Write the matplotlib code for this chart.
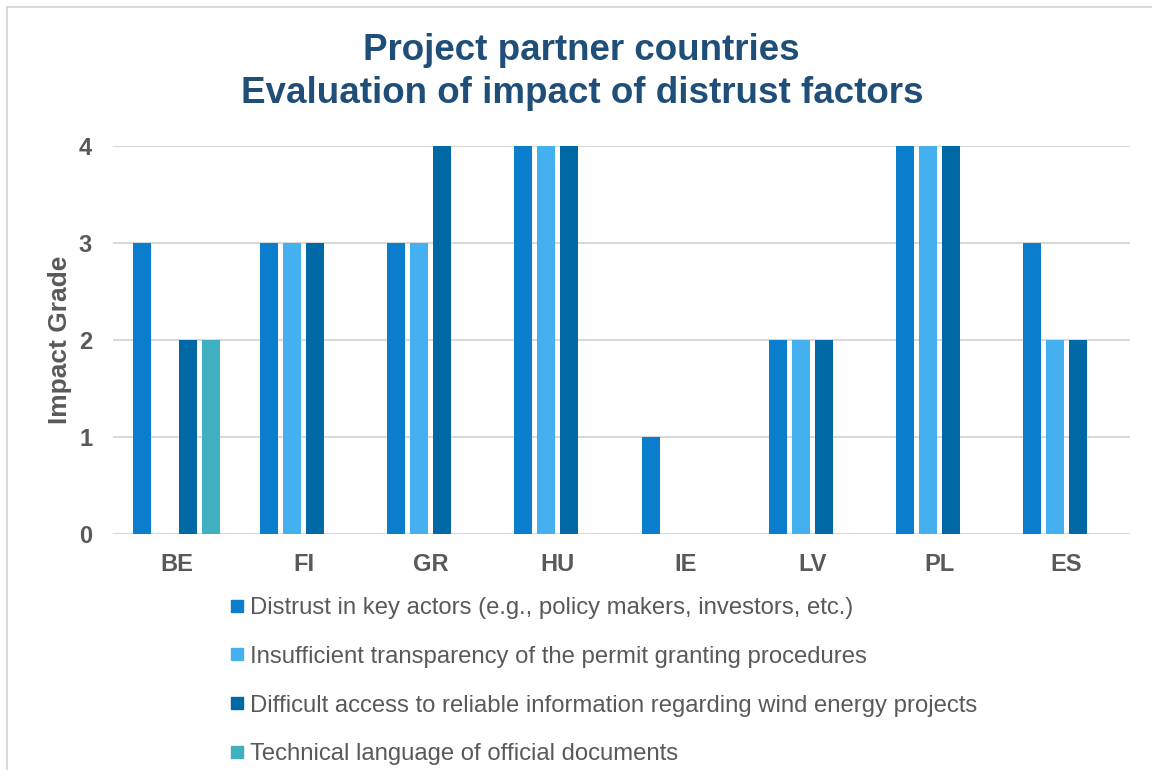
import matplotlib.pyplot as plt
import numpy as np
from matplotlib.lines import Line2D
from matplotlib.patches import Rectangle

plt.rcParams['font.family'] = ['Liberation Sans', 'DejaVu Sans']

# Data
countries = ['BE', 'FI', 'GR', 'HU', 'IE', 'LV', 'PL', 'ES']
series_names = [
    'Distrust in key actors (e.g., policy makers, investors, etc.)',
    'Insufficient transparency of the permit granting procedures',
    'Difficult access to reliable information regarding wind energy projects',
    'Technical language of official documents',
]
distrust_actors = [3, 3, 3, 4, 1, 2, 4, 3]
transparency = [0, 3, 3, 4, 0, 2, 4, 2]
access_info = [2, 3, 4, 4, 0, 2, 4, 2]
technical_lang = [2, 0, 0, 0, 0, 0, 0, 0]
colors = ['#0A7DCD', '#45B0F0', '#0068A5', '#40AFBF']

title_color = '#1F4E79'
text_color = '#595959'

fig = plt.figure(figsize=(11.52, 7.7), dpi=100)
ax = fig.add_axes([113 / 1152, 1 - 534 / 770, (1130 - 113) / 1152, (534 - 146) / 770])

x = np.arange(len(countries))
step = 0.181
width = 0.142
all_series = [distrust_actors, transparency, access_info, technical_lang]
for i, vals in enumerate(all_series):
    ax.bar(x + (i - 1.5) * step, vals, width=width, color=colors[i], linewidth=0, zorder=3)

ax.set_xlim(-0.5, len(countries) - 0.5)
ax.set_ylim(0, 4)
ax.set_yticks([0, 1, 2, 3, 4])
ax.set_xticks(x)
ax.set_xticklabels(countries)
ax.grid(axis='y', color='#D9D9D9', linewidth=1.5, zorder=0)
for s in ax.spines.values():
    s.set_visible(False)
ax.tick_params(axis='both', length=0, labelsize=17, colors=text_color)
ax.tick_params(axis='x', pad=14)
ax.tick_params(axis='y', pad=15)
for lbl in ax.get_xticklabels() + ax.get_yticklabels():
    lbl.set_fontweight('bold')
ax.set_ylabel('Impact Grade', fontsize=19, fontweight='bold', color=text_color, labelpad=5)

fig.text(0.505, 1 - 72 / 770, 'Project partner countries\nEvaluation of impact of distrust factors',
         ha='center', va='center', fontsize=26.5, fontweight='bold', color=title_color,
         linespacing=1.32)

handles = [Line2D([], [], marker='s', linestyle='none', markersize=8, color=c) for c in colors]
fig.legend(handles, series_names, loc='upper left', bbox_to_anchor=(230 / 1152, 1 - 597 / 770),
           frameon=False, fontsize=17.2, labelcolor=text_color, handlelength=0.6,
           handletextpad=0.25, labelspacing=1.12, borderpad=0, borderaxespad=0)

# light chart border
fig.patches.append(Rectangle((7 / 1152, -0.1), 1.2, 1 - 7 / 770 + 0.1, transform=fig.transFigure,
                             fill=False, edgecolor='#D9D9D9', linewidth=1.5))

fig.savefig('out.png', dpi=100, facecolor='white')
